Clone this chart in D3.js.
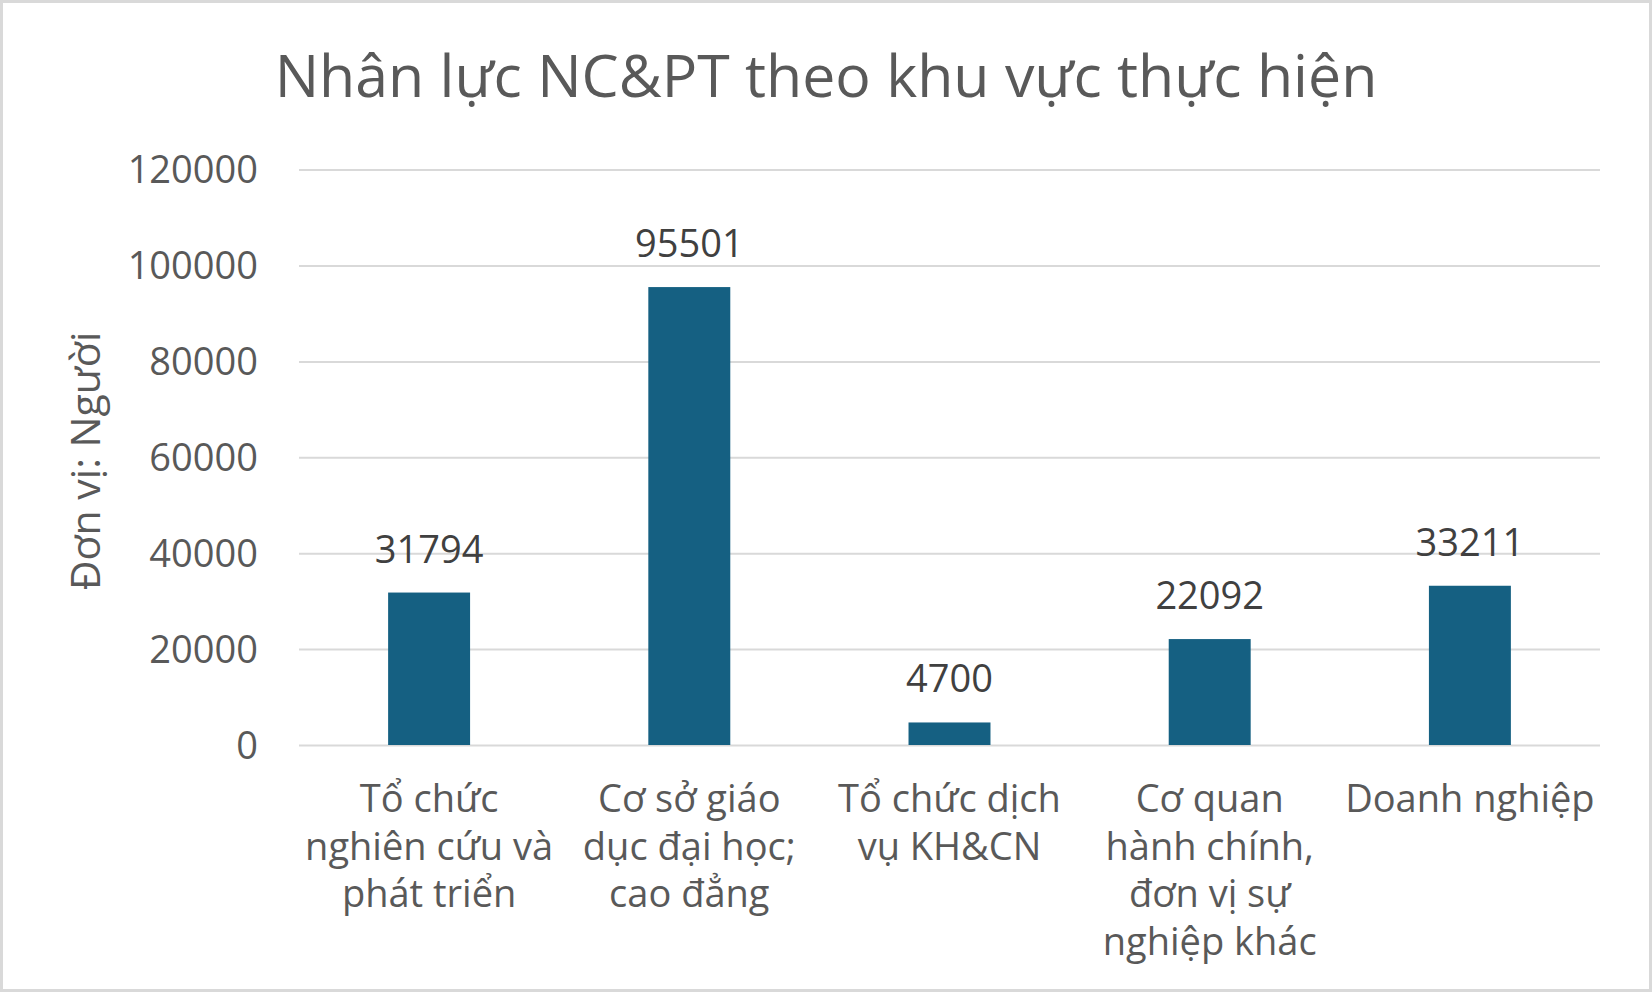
<!DOCTYPE html>
<html>
<head>
<meta charset="utf-8">
<script src="https://cdn.jsdelivr.net/npm/d3@7"></script>
<style>
  html, body { margin: 0; padding: 0; background: #fff; }
  svg { display: block; }
  text { font-family: "Open Sans", "Liberation Sans", Arial, sans-serif; }
</style>
</head>
<body>
<svg id="chart" width="1652" height="992"></svg>
<script>
const title = "Nhân lực NC&PT theo khu vực thực hiện";
const yAxisTitle = "Đơn vị: Người";
const categories = [
  "Tổ chức\nnghiên cứu và\nphát triển",
  "Cơ sở giáo\ndục đại học;\ncao đẳng",
  "Tổ chức dịch\nvụ KH&CN",
  "Cơ quan\nhành chính,\nđơn vị sự\nnghiệp khác",
  "Doanh nghiệp"
];
const values = [31794, 95501, 4700, 22092, 33211];
const yTicks = [0, 20000, 40000, 60000, 80000, 100000, 120000];

const W = 1652, H = 992;
const margin = { left: 299, right: 52, top: 169.6, bottom: 247 };
const svg = d3.select("#chart");

svg.append("rect").attr("x", 1.5).attr("y", 1.5).attr("width", W - 3).attr("height", H - 3)
  .attr("fill", "#fff").attr("stroke", "#d9d9d9").attr("stroke-width", 3);

const x = d3.scaleBand().domain(categories)
  .range([margin.left, W - margin.right])
  .paddingInner(0.685).paddingOuter(0.3425);
const y = d3.scaleLinear().domain([0, 120000]).range([H - margin.bottom, margin.top]);

// gridlines
const yAxis = d3.axisLeft(y).tickValues(yTicks).tickSize(-(W - margin.left - margin.right)).tickFormat(d => d);
const gy = svg.append("g").attr("transform", `translate(${margin.left},0)`).call(yAxis);
gy.select(".domain").remove();
gy.selectAll(".tick line").attr("stroke", "#d9d9d9").attr("stroke-width", 2);
gy.selectAll(".tick text").attr("x", -41).attr("fill", "#595959")
  .style("font-size", "38px").attr("dy", "0.35em");

// bars
svg.append("g").selectAll("rect").data(values).join("rect")
  .attr("x", (d, i) => x(categories[i]))
  .attr("y", d => y(d))
  .attr("width", x.bandwidth())
  .attr("height", d => y(0) - y(d))
  .attr("fill", "#156082");

// data labels
svg.append("g").selectAll("text").data(values).join("text")
  .attr("x", (d, i) => x(categories[i]) + x.bandwidth() / 2)
  .attr("y", d => y(d) - 30)
  .attr("text-anchor", "middle")
  .attr("fill", "#404040")
  .style("font-size", "38px")
  .text(d => d);

// category labels
const xl = svg.append("g");
categories.forEach((c, i) => {
  const t = xl.append("text")
    .attr("x", x(c) + x.bandwidth() / 2)
    .attr("y", 812)
    .attr("text-anchor", "middle")
    .attr("fill", "#595959")
    .style("font-size", "38px");
  c.split("\n").forEach((line, j) => {
    t.append("tspan").attr("x", x(c) + x.bandwidth() / 2).attr("dy", j === 0 ? 0 : 47.5).text(line);
  });
});

// title
svg.append("text").attr("x", 826).attr("y", 97).attr("text-anchor", "middle")
  .attr("fill", "#595959").style("font-size", "59px").text(title);

// y axis title
svg.append("text").attr("transform", `translate(100,461) rotate(-90)`)
  .attr("text-anchor", "middle").attr("fill", "#595959")
  .style("font-size", "41px").text(yAxisTitle);
</script>
</body>
</html>
